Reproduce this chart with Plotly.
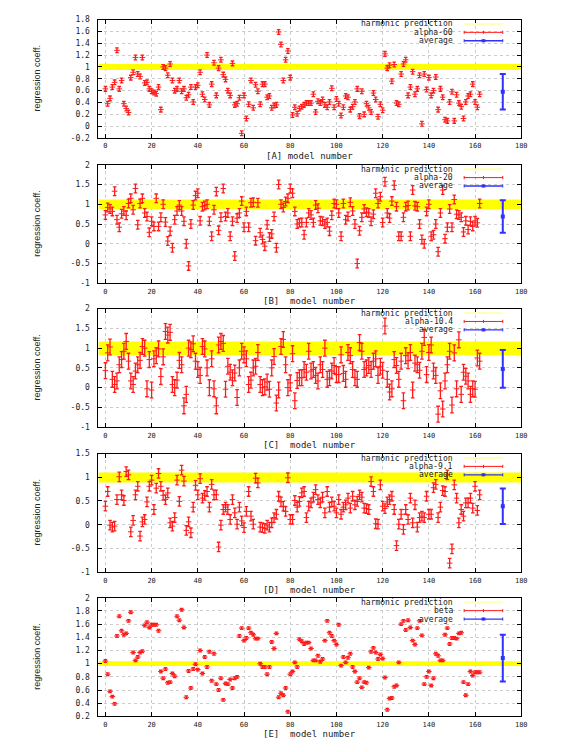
import plotly.graph_objects as go

# model numbers on the x axis
model_number = list(range(163))

alpha60 = [
    0.63, 0.38, 0.47, 0.66, 0.74, 1.28, 0.63, 0.77, 0.38, 0.30,
    0.23, 0.82, 0.91, 1.16, 0.88, 0.84, 1.16, 0.73, 0.74, 0.63,
    0.59, 0.57, 0.55, 0.66, 0.28, 1.00, 0.98, 0.86, 1.05, 0.77,
    0.60, 0.63, 0.77, 0.59, 0.63, 0.48, 0.53, 0.66, 0.41, 0.66,
    0.69, 0.91, 0.54, 0.45, 1.20, 0.36, 0.71, 1.07, 0.52, 0.98,
    1.12, 0.87, 0.79, 0.60, 0.52, 1.06, 0.36, 0.38, 0.48, -0.12,
    0.52, 0.13, 0.37, 0.77, 0.31, 0.70, 0.59, 0.37, 0.71, 0.71,
    0.49, 0.51, 0.31, 0.35, 0.36, 1.59, 1.38, 0.77, 1.12, 1.27,
    0.82, 0.19, 0.32, 0.21, 0.30, 0.33, 0.36, 0.39,
    0.39, 0.39, 0.54, 0.24, 0.42, 0.39, 0.45, 0.36, 0.32, 0.41,
    0.64, 0.32, 0.46, 0.38, 0.18, 0.32, 0.51, 0.49, 0.28, 0.33,
    0.41, 0.63, 0.17, 0.59, 0.20, 0.38, 0.31, 0.24, 0.56, 0.45,
    0.16, 0.37, 0.27, 1.22, 0.98, 1.03, 0.76, 1.04, 0.39, 0.37,
    0.88, 1.05, 1.12, 0.52, 0.66, 0.92, 0.54, 0.63, 0.86, 0.04,
    0.88, 0.62, 0.82, 0.52, 0.60, 0.83, 0.28, 0.63, 0.49, 0.11,
    0.09, 0.41, 0.58, 0.09, 0.53, 0.39, 0.33, 0.13, 0.41, 0.51,
    0.54, 0.71, 0.41, 0.32, 0.54,
]

alpha20 = [
    0.73, 0.92, 0.88, 0.82, 1.33, 0.61, 0.42, 0.76, 0.83, 0.72,
    1.02, 1.15, 0.86, 1.40, 0.48, 1.02, 1.15, 0.78, 0.69, 0.29,
    0.57, 0.44, 1.15, 0.44, 0.67, 1.00, 0.55, 0.07, 0.32, -0.10,
    0.61, 0.83, 0.98, 0.83, 0.57, 0.00, -0.56, 0.50, 0.98, 1.22,
    1.28, 0.58, 0.94, 0.97, 1.00, 0.57, 0.19, 0.86, 1.32, 0.34,
    0.67, 1.40, 0.69, 0.78, 0.19, 0.57, -0.31, 0.65, 0.78, 1.08,
    0.42, 0.82, 0.42, 1.04, 1.05, 0.08, 1.04, 0.28, 0.11, -0.06,
    0.48, 0.17, 0.25, 0.69, -0.10, 1.50, 1.00, 0.92, 1.07, 1.15,
    1.40, 1.28, 0.82, 0.50, 0.53, 0.54, 0.23, 0.54,
    0.78, 0.73, 0.54, 0.98, 0.90, 0.58, 0.57, 0.50, 0.54, 0.32,
    0.72, 1.02, 1.00, 0.78, 0.19, 1.02, 0.61, 0.69, 1.05, 0.83,
    0.50, -0.50, 0.33, 0.67, 0.88, 0.80, 0.78, 0.57, 0.75, 1.28,
    1.02, 1.19, 0.54, 1.57, 0.78, 0.65, 1.08, 1.48, 0.94, 0.19,
    0.19, 0.67, 0.94, 0.97, 0.19, 1.36, 0.96, 0.94, 0.50, 0.11,
    0.00, 0.82, 1.00, 0.19, 0.23, 0.50, -0.20, 0.78, 1.36, 0.13,
    0.42, 0.88, 0.42, 1.12, 0.75, 0.73, 0.67, 0.30, 0.58, 0.36,
    0.57, 0.44, 0.58, 0.53, 1.02,
]

alpha10_4 = [
    0.43, 0.88, 1.03, 0.21, 0.08, 0.17, 0.58, 0.71, 0.92, 1.17,
    0.67, 0.17, 0.08, 0.42, 0.58, 0.69, 1.04, 1.00, -0.03, 0.71,
    -0.06, 0.73, 0.81, 0.98, 0.28, 0.78, 1.42, 1.33, 1.40, 0.08,
    0.00, 0.19, 0.69, 0.58, -0.46, -0.17, 1.00, 0.96, 1.11, 0.67,
    0.46, 0.31, 1.04, 0.98, 0.50, 0.00, 0.73, -0.03, -0.46, 1.08,
    1.17, 1.12, -0.04, 0.54, 0.39, 0.25, 0.37, -0.25, 0.50, 0.92,
    0.83, 0.73, 0.08, 0.19, 0.50, 0.54, 0.89, 0.08, 0.00, 0.02,
    0.14, -0.04, 0.50, 0.79, -0.39, -0.06, 1.04, 1.22, 0.58, 0.00,
    0.12, 0.86, -0.33, 0.18, 0.25, 0.25, 0.46, 0.39,
    0.92, 0.42, 0.46, 0.31, 0.17, 0.58, 0.46, 1.00, 0.21, 0.25,
    0.42, 0.56, 0.33, 0.33, 0.83, 0.36, 0.21, 0.89, 0.81, 0.46,
    0.25, 0.21, 1.14, 0.92, 0.46, 0.50, 0.56, 0.46, 0.67, 0.73,
    0.31, 0.54, 0.44, 1.56, 0.21, -0.11, -0.03, 0.71, 0.56, 0.21,
    0.67, -0.33, 0.81, 0.68, 0.89, -0.06, 0.62, 0.58, 0.44, 0.92,
    1.27, 0.33, 0.89, 1.08, 0.42, 0.31, -0.67, -0.08, -0.54, 0.17,
    0.58, 0.92, -0.44, 0.88, -0.03, 1.21, -0.17, 0.39, 0.29, 0.17,
    -0.17, -0.03, -0.04, 0.75, 0.67,
]

alpha9_1 = [
    0.39, 0.70, -0.01, -0.05, -0.03, 0.53, 1.01, 0.63, 0.51, 1.12,
    1.05, -0.15, 0.09, 0.63, 0.81, -0.24, 0.06, 0.11, 0.48, 0.81,
    0.94, 0.32, 0.77, 1.08, 0.81, 0.62, 0.53, 0.67, 0.04, -0.03,
    0.15, 0.94, 0.49, 1.15, 0.92, -0.12, 0.06, -0.17, 0.37, 0.83,
    0.63, 0.97, 0.56, 0.62, 0.70, 0.37, 0.85, 0.63, 0.63, -0.47,
    -0.01, 0.32, 0.37, 0.32, 0.11, 0.53, 0.25, 0.01, 0.37, 0.08,
    -0.06, 0.28, 0.70, 0.18, 0.01, 0.98, 0.88, -0.05, -0.06, -0.08,
    -0.01, -0.05, 0.04, 0.15, 0.22, 0.60, 0.48, 0.39, 0.28, 0.99,
    0.11, 0.11, 0.51, 0.37, 0.49, 0.67, 0.70, 0.15,
    0.39, 0.46, 0.58, 0.74, 0.53, 0.46, 0.58, 0.25, 0.70, 0.37,
    0.48, 0.39, 0.25, 0.53, 0.22, 0.37, 0.42, 0.56, 0.35, 0.60,
    0.42, 0.49, 0.63, 0.58, 0.35, 0.34, 0.32, 0.91, 0.70, 0.02,
    0.01, 0.84, 0.39, 0.34, 0.48, 0.53, 0.60, 0.32, -0.44, 0.01,
    0.22, -0.10, 0.32, 0.11, 0.56, 0.04, 0.42, -0.05, 0.15, 0.18,
    0.15, 0.60, 0.22, 0.22, 0.78, 0.85, 0.15, 0.37, 0.72, 0.70,
    1.05, -0.81, -0.51, 0.84, 0.56, 0.04, 0.32, 0.18, 0.46, 0.46,
    0.56, 0.35, 0.81, 0.30, 0.63,
]

beta = [
    1.04, 0.84, 0.58, 0.50, 0.39, 1.42, 1.72, 1.50, 1.44, 1.46,
    1.65, 1.78, 1.17, 1.05, 1.10, 1.17, 1.19, 1.58, 1.63, 1.55,
    1.59, 1.59, 1.59, 1.50, 0.88, 0.78, 0.92, 0.71, 0.72, 0.85,
    0.81, 1.72, 1.66, 1.82, 1.55, 0.49, 0.89, 0.63, 0.92, 0.99,
    0.91, 1.20, 0.85, 1.10, 0.95, 1.18, 0.74, 1.15, 0.69, 0.60,
    0.78, 0.45, 0.70, 0.69, 0.76, 0.63, 0.78, 0.80, 1.42, 1.54,
    1.35, 1.39, 1.54, 1.47, 1.44, 1.38, 1.38, 1.00, 0.95, 0.95,
    0.84, 0.95, 1.33, 1.23, 1.46, 0.49, 0.55, 0.52, 0.63, 0.27,
    0.84, 0.88, 1.02, 0.95, 1.37, 1.34, 1.30, 1.32,
    1.32, 1.23, 1.05, 1.05, 1.12, 1.03, 1.07, 1.35, 1.65, 1.47,
    1.42, 1.35, 1.29, 1.59, 0.97, 1.10, 1.02, 1.09, 1.15, 0.95,
    0.88, 0.72, 0.78, 0.64, 0.72, 0.71, 0.94, 1.18, 1.24, 1.17,
    1.07, 1.14, 1.08, 0.79, 0.30, 0.47, 0.48, 0.65, 0.67, 1.02,
    1.60, 1.65, 1.51, 1.66, 1.55, 1.35, 1.29, 1.54, 1.65, 1.43,
    0.69, 0.80, 0.88, 0.67, 0.78, 1.15, 1.12, 1.05, 1.05, 1.44,
    1.54, 1.30, 1.39, 1.39, 1.38, 1.46, 1.47, 0.72, 0.52, 0.69,
    0.88, 0.82, 0.87, 0.87, 0.87,
]

panel_tags = ["A", "B", "C", "D", "E"]
series_names = ["alpha-60", "alpha-20", "alpha-10.4", "alpha-9.1", "beta"]
series_values = [alpha60, alpha20, alpha10_4, alpha9_1, beta]
series_errors = [0.04, 0.11, 0.2, 0.1, 0.02]

# the "average" point drawn at the right of each panel
average_x = 172
average_values = [0.58, 0.69, 0.475, 0.39, 1.085]
average_errors = [0.30, 0.41, 0.475, 0.375, 0.355]

# harmonic prediction band (low, high)
band_low = [0.95, 0.88, 0.82, 0.89, 0.965]
band_high = [1.05, 1.12, 1.17, 1.10, 1.035]

x_ticks = [0, 20, 40, 60, 80, 100, 120, 140, 160, 180]
y_tick_labels = [
    ["-0.2", "0", "0.2", "0.4", "0.6", "0.8", "1", "1.2", "1.4", "1.6", "1.8"],
    ["-1", "-0.5", "0", "0.5", "1", "1.5", "2"],
    ["-1", "-0.5", "0", "0.5", "1", "1.5", "2"],
    ["-1", "-0.5", "0", "0.5", "1", "1.5"],
    ["0.2", "0.4", "0.6", "0.8", "1", "1.2", "1.4", "1.6", "1.8", "2"],
]

# page geometry in pixels
W, H = 581, 752
LEFT, RIGHT = 99.5, 526.7
TOPS = [15.7, 162.7, 308.3, 455.0, 601.0]
PANEL_H = 120

RED = "#ff1a1a"
BLUE = "#3030ff"
YELLOW = "#ffff00"
TEXT = "#222222"
MONO = "DejaVu Sans Mono"
LEGEND_FONT = dict(family=MONO, size=8, color=TEXT)


def fx(p):
    return p / W


def fy(p):
    return 1 - p / H


fig = go.Figure()
shapes = []
annotations = []

for i, tag in enumerate(panel_tags):
    n = "" if i == 0 else str(i + 1)
    xref, yref = "x" + n, "y" + n
    top = TOPS[i]
    bottom = top + PANEL_H
    yvals = [float(t) for t in y_tick_labels[i]]

    fig.add_trace(go.Scatter(
        x=model_number, y=series_values[i], mode="markers",
        xaxis=xref, yaxis=yref, showlegend=False,
        marker=dict(symbol="line-ew-open", size=4, color=RED, line=dict(color=RED, width=1)),
        error_y=dict(type="constant", value=series_errors[i], color=RED, thickness=1.3, width=1.8),
    ))
    fig.add_trace(go.Scatter(
        x=[average_x], y=[average_values[i]], mode="markers",
        xaxis=xref, yaxis=yref, showlegend=False,
        marker=dict(symbol="square", size=4, color=BLUE),
        error_y=dict(type="data", array=[average_errors[i]], color=BLUE, thickness=2, width=3),
    ))

    axis_style = dict(
        ticks="inside", ticklen=4, tickcolor="black", mirror="ticks",
        showline=True, linecolor="black", linewidth=1,
        showgrid=True, griddash="dot", gridcolor="#cccccc", gridwidth=1,
        zeroline=False,
    )
    fig.layout["xaxis" + n] = dict(
        domain=[fx(LEFT), fx(RIGHT)], range=[-3, 180], anchor=yref,
        tickvals=x_ticks, ticktext=[str(t) for t in x_ticks], ticklabelstandoff=1,
        tickfont=dict(family=MONO, size=7, color=TEXT), **axis_style)
    fig.layout["yaxis" + n] = dict(
        domain=[fy(bottom), fy(top)], range=[yvals[0], yvals[-1]], anchor=xref,
        tickvals=yvals, ticktext=y_tick_labels[i], ticklabelstandoff=6,
        tickfont=dict(family=MONO, size=8, color=TEXT), **axis_style)

    # harmonic prediction band
    shapes.append(dict(type="rect", xref=xref, yref=yref, x0=-3, x1=180,
                       y0=band_low[i], y1=band_high[i], fillcolor=YELLOW,
                       line=dict(width=0), layer="between"))

    # axis titles
    spacer = " " if i == 0 else "\u00a0 "
    annotations.append(dict(text="[" + tag + "]" + spacer + "model number", xref="paper", yref="paper",
                            x=fx(313), y=fy(bottom + 18), xanchor="center", yanchor="middle",
                            showarrow=False, font=dict(family=MONO, size=9, color=TEXT)))
    annotations.append(dict(text="regression coeff.", xref="paper", yref="paper",
                            x=fx(37), y=fy(top + 60), xanchor="center", yanchor="middle",
                            showarrow=False, textangle=-90,
                            font=dict(family="Liberation Sans Narrow, Liberation Sans", size=9, color=TEXT)))

    # gnuplot style key: text right aligned, sample on the right
    rows = [top + 4.5, top + 13, top + 21.5]
    for label, ry in zip(["harmonic prediction", series_names[i], "average"], rows):
        annotations.append(dict(text=label, xref="paper", yref="paper", x=fx(460), y=fy(ry),
                                xanchor="right", yanchor="middle", showarrow=False, font=LEGEND_FONT))
    s0, s1 = 469, 508
    mid = (s0 + s1) / 2
    shapes.append(dict(type="line", xref="paper", yref="paper", x0=fx(s0), x1=fx(s1),
                       y0=fy(rows[0]), y1=fy(rows[0]), line=dict(color="#ffffb8", width=2)))
    for ry, col, w in [(rows[1], RED, 1), (rows[2], BLUE, 1.3)]:
        shapes.append(dict(type="line", xref="paper", yref="paper", x0=fx(s0), x1=fx(s1),
                           y0=fy(ry), y1=fy(ry), line=dict(color=col, width=w)))
        for xx in (s0, s1, mid):
            shapes.append(dict(type="line", xref="paper", yref="paper", x0=fx(xx), x1=fx(xx),
                               y0=fy(ry - 1.6), y1=fy(ry + 1.6), line=dict(color=col, width=1)))
    shapes.append(dict(type="rect", xref="paper", yref="paper", x0=fx(mid - 2), x1=fx(mid + 2),
                       y0=fy(rows[2] - 1.5), y1=fy(rows[2] + 1.5), fillcolor=BLUE, line=dict(width=0)))

fig.update_layout(
    width=W, height=H, margin=dict(l=0, r=0, t=0, b=0),
    paper_bgcolor="white", plot_bgcolor="white",
    shapes=shapes, annotations=annotations, showlegend=False,
)

# the 581x752 figure has to sit at the window's corner with no scrollbars
fig.write_html("out.html", config={"displayModeBar": False},
               post_script="document.body.style.margin = '0'; document.body.style.overflow = 'hidden';")
